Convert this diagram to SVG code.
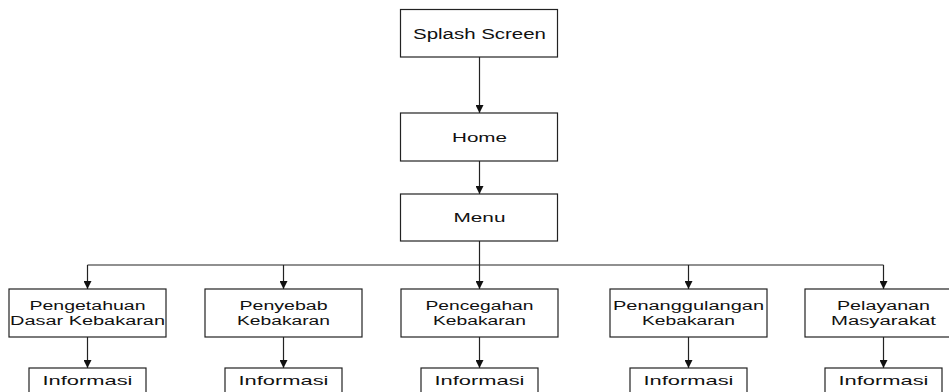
<svg xmlns="http://www.w3.org/2000/svg" width="949" height="392" viewBox="0 0 949 392">
<style>
.box{fill:#fff;stroke:#222;stroke-width:1.2}
.ln{fill:none;stroke:#222;stroke-width:1.2}
text{font-family:"Liberation Sans",Arial,sans-serif;fill:#111;text-anchor:middle}
.t14{font-size:14px}
.t13{font-size:13px}
.t12{font-size:12px}
</style>
<defs>
<marker id="ah" viewBox="0 0 10 10" refX="10" refY="5" markerWidth="8" markerHeight="8" markerUnits="userSpaceOnUse" orient="auto">
<path d="M0,0 L10,5 L0,10 z" fill="#111"/>
</marker>
</defs>
<rect width="949" height="392" fill="#fff"/>
<g id="connectors">
<line class="ln" x1="479.5" y1="57" x2="479.5" y2="113" marker-end="url(#ah)"/>
<line class="ln" x1="479.5" y1="161" x2="479.5" y2="194" marker-end="url(#ah)"/>
<polyline class="ln" points="479.5,241 479.5,265"/>
<line class="ln" x1="87.5" y1="265" x2="883.5" y2="265"/>
<line class="ln" x1="87.5" y1="265" x2="87.5" y2="289" marker-end="url(#ah)"/>
<line class="ln" x1="283.5" y1="265" x2="283.5" y2="289" marker-end="url(#ah)"/>
<line class="ln" x1="479.5" y1="265" x2="479.5" y2="289" marker-end="url(#ah)"/>
<line class="ln" x1="688.5" y1="265" x2="688.5" y2="289" marker-end="url(#ah)"/>
<line class="ln" x1="883.5" y1="265" x2="883.5" y2="289" marker-end="url(#ah)"/>
<line class="ln" x1="87.5" y1="337" x2="87.5" y2="368" marker-end="url(#ah)"/>
<line class="ln" x1="283.5" y1="337" x2="283.5" y2="368" marker-end="url(#ah)"/>
<line class="ln" x1="479.5" y1="337" x2="479.5" y2="368" marker-end="url(#ah)"/>
<line class="ln" x1="688.5" y1="337" x2="688.5" y2="368" marker-end="url(#ah)"/>
<line class="ln" x1="883.5" y1="337" x2="883.5" y2="368" marker-end="url(#ah)"/>
</g>
<g id="splash">
<rect class="box" x="400.5" y="9.5" width="157" height="47.5"/>
<text class="t14" x="479.5" y="38.5" textLength="133" lengthAdjust="spacingAndGlyphs">Splash Screen</text>
</g>
<g id="home">
<rect class="box" x="400.5" y="113" width="157" height="48"/>
<text class="t13" x="479.5" y="142" textLength="55" lengthAdjust="spacingAndGlyphs">Home</text>
</g>
<g id="menu">
<rect class="box" x="400.5" y="194" width="157" height="47"/>
<text class="t13" x="479.5" y="222" textLength="52" lengthAdjust="spacingAndGlyphs">Menu</text>
</g>
<g id="pengetahuan">
<rect class="box" x="9" y="289" width="157" height="48"/>
<text class="t12" x="87.5" y="310" textLength="116" lengthAdjust="spacingAndGlyphs">Pengetahuan</text>
<text class="t12" x="87.5" y="325" textLength="155" lengthAdjust="spacingAndGlyphs">Dasar Kebakaran</text>
</g>
<g id="penyebab">
<rect class="box" x="205" y="289" width="157" height="48"/>
<text class="t12" x="283.5" y="310" textLength="88" lengthAdjust="spacingAndGlyphs">Penyebab</text>
<text class="t12" x="283.5" y="325" textLength="93" lengthAdjust="spacingAndGlyphs">Kebakaran</text>
</g>
<g id="pencegahan">
<rect class="box" x="401" y="289" width="157" height="48"/>
<text class="t12" x="479.5" y="310" textLength="108" lengthAdjust="spacingAndGlyphs">Pencegahan</text>
<text class="t12" x="479.5" y="325" textLength="93" lengthAdjust="spacingAndGlyphs">Kebakaran</text>
</g>
<g id="penanggulangan">
<rect class="box" x="610" y="289" width="157" height="48"/>
<text class="t12" x="688.5" y="310" textLength="151" lengthAdjust="spacingAndGlyphs">Penanggulangan</text>
<text class="t12" x="688.5" y="325" textLength="93" lengthAdjust="spacingAndGlyphs">Kebakaran</text>
</g>
<g id="pelayanan">
<rect class="box" x="805" y="289" width="157" height="48"/>
<text class="t12" x="883.5" y="310" textLength="93" lengthAdjust="spacingAndGlyphs">Pelayanan</text>
<text class="t12" x="883.5" y="325" textLength="105" lengthAdjust="spacingAndGlyphs">Masyarakat</text>
</g>
<g id="info1">
<rect class="box" x="29" y="368" width="117" height="48"/>
<text class="t13" x="87.5" y="385" textLength="90" lengthAdjust="spacingAndGlyphs">Informasi</text>
</g>
<g id="info2">
<rect class="box" x="225" y="368" width="117" height="48"/>
<text class="t13" x="283.5" y="385" textLength="90" lengthAdjust="spacingAndGlyphs">Informasi</text>
</g>
<g id="info3">
<rect class="box" x="421" y="368" width="117" height="48"/>
<text class="t13" x="479.5" y="385" textLength="90" lengthAdjust="spacingAndGlyphs">Informasi</text>
</g>
<g id="info4">
<rect class="box" x="630" y="368" width="117" height="48"/>
<text class="t13" x="688.5" y="385" textLength="90" lengthAdjust="spacingAndGlyphs">Informasi</text>
</g>
<g id="info5">
<rect class="box" x="825" y="368" width="117" height="48"/>
<text class="t13" x="883.5" y="385" textLength="90" lengthAdjust="spacingAndGlyphs">Informasi</text>
</g>
</svg>
